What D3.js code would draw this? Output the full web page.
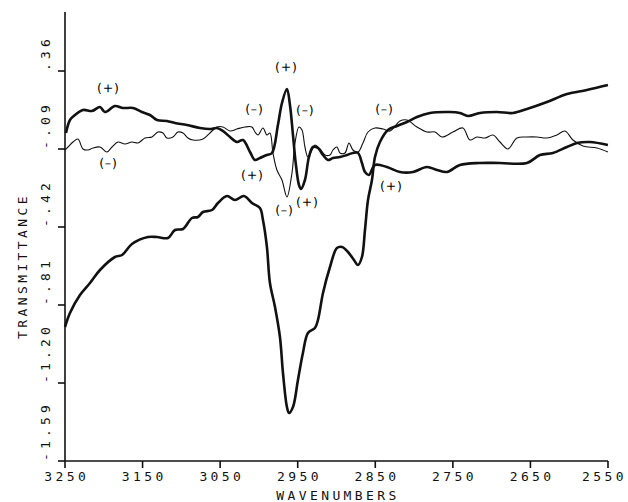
<!DOCTYPE html>
<html><head><meta charset="utf-8">
<script src="https://cdn.jsdelivr.net/npm/d3@7"></script>
<style>
html,body{margin:0;padding:0;background:#fff;}
svg{display:block;}
.ax{font-family:"DejaVu Sans Mono",monospace;font-size:13px;letter-spacing:3.4px;fill:#111;}
.ay{font-family:"DejaVu Sans Mono",monospace;font-size:13px;letter-spacing:4.2px;fill:#111;}
.sg{font-family:"DejaVu Sans",sans-serif;font-size:12.5px;letter-spacing:0.8px;fill:#000;}
</style></head><body>
<svg id="c" width="628" height="502"></svg>
<script>
// Wavenumber ticks and transmittance ticks
const xTicks = [3250, 3150, 3050, 2950, 2850, 2750, 2650, 2550];
const yTickValues = [0.36, -0.03, -0.42, -0.81, -1.20, -1.59];
const yTickLabels = [".36", "-.09", "-.42", "-.81", "-1.20", "-1.59"];

// Series: [wavenumber, transmittance]
const absorbance = [
[3250,-0.92],[3243.6,-0.85],[3230.7,-0.76],[3217.8,-0.70],[3204.9,-0.635],[3185.6,-0.57],[3176.5,-0.56],
[3163.7,-0.505],[3143,-0.47],[3131.4,-0.47],[3117.3,-0.475],[3108.2,-0.435],[3097.9,-0.43],[3086.3,-0.375],
[3078.6,-0.37],[3072.1,-0.345],[3060.5,-0.335],[3052.8,-0.30],[3041.2,-0.265],[3030.9,-0.285],[3019.3,-0.265],
[3009,-0.30],[2998.7,-0.325],[2994.8,-0.385],[2989.7,-0.52],[2985.8,-0.70],[2979.3,-0.82],[2972.9,-0.97],
[2969,-1.15],[2963.9,-1.32],[2961.3,-1.35],[2956.1,-1.32],[2949.7,-1.185],[2943.3,-1.05],[2936.8,-0.95],
[2927.8,-0.925],[2923.9,-0.885],[2917.4,-0.75],[2908.4,-0.62],[2899.4,-0.525],[2892.9,-0.52],[2885.2,-0.545],
[2877.5,-0.585],[2872.3,-0.61],[2867.2,-0.57],[2863.3,-0.435],[2859.4,-0.285],[2854.3,-0.185],[2850.4,-0.07],
[2844,0.005],[2833.7,0.065],[2822,0.085],[2809.2,0.105],[2796.3,0.13],[2779.5,0.15],[2753.8,0.155],
[2740.9,0.15],[2730.5,0.135],[2715.1,0.15],[2693.2,0.155],[2672.5,0.15],[2654.5,0.17],[2628.7,0.205],
[2602.9,0.245],[2577.2,0.265],[2550.1,0.29]
];
const diffPlus = [
[3248.7,0.05],[3243.6,0.115],[3237.1,0.14],[3226.8,0.165],[3215.2,0.16],[3204.9,0.18],[3198.5,0.155],
[3185.6,0.185],[3175.3,0.175],[3162.4,0.175],[3150.8,0.155],[3140.5,0.14],[3131.4,0.115],[3118.6,0.11],
[3108.2,0.10],[3092.8,0.09],[3076,0.075],[3063.1,0.07],[3054.1,0.075],[3046.4,0.06],[3037.3,0.03],
[3028.3,0.005],[3020.6,0.015],[3011.5,-0.045],[3005.1,-0.085],[2998.7,-0.075],[2989.7,-0.06],[2983.2,-0.05],
[2975.5,0.09],[2970.3,0.20],[2963.9,0.27],[2960,0.19],[2956.1,0.04],[2952.3,-0.11],[2948.4,-0.21],
[2945.8,-0.23],[2940.7,-0.185],[2935.5,-0.07],[2930.3,-0.02],[2923.9,-0.025],[2917.4,-0.06],[2911,-0.085],
[2904.6,-0.075],[2895.5,-0.07],[2886.5,-0.06],[2878.8,-0.05],[2872.3,-0.05],[2867.2,-0.10],[2863.3,-0.145],
[2858.2,-0.16],[2850.4,-0.11],[2835,-0.12],[2818.2,-0.145],[2801.4,-0.145],[2783.4,-0.12],[2770.5,-0.135],
[2757.6,-0.145],[2740.9,-0.11],[2715.1,-0.10],[2689.3,-0.10],[2654.5,-0.10],[2637.7,-0.06],[2621,-0.05],
[2602.9,-0.02],[2590,0.0],[2573.3,0.005],[2550.1,-0.01]
];
const diffMinus = [
[3250,-0.035],[3246.1,-0.02],[3239.7,0.005],[3233.3,0.02],[3226.8,-0.03],[3220.4,-0.035],[3213.9,-0.025],
[3204.9,-0.02],[3195.9,-0.045],[3189.4,-0.02],[3181.7,0.005],[3172.7,-0.005],[3163.7,0.005],[3156,0.0],
[3146.9,0.025],[3137.9,0.03],[3130.1,0.055],[3123.7,0.05],[3118.6,0.025],[3110.8,0.03],[3104.4,0.055],
[3097.9,0.05],[3091.5,0.025],[3085,0.015],[3072.1,0.02],[3063.1,0.05],[3054.1,0.08],[3046.4,0.08],
[3037.3,0.06],[3028.3,0.07],[3018,0.08],[3009,0.08],[3005.1,0.055],[3001.2,0.04],[2994.8,0.075],
[2989.7,0.04],[2985.8,0.05],[2981.9,-0.05],[2976.8,-0.135],[2970.3,-0.185],[2963.9,-0.27],[2957.4,-0.15],
[2953.5,0.0],[2948.4,0.08],[2944.5,0.065],[2940.7,-0.02],[2936.8,-0.07],[2931.6,-0.035],[2927.8,-0.01],
[2921.3,-0.03],[2914.9,-0.06],[2908.4,-0.06],[2904.6,-0.035],[2899.4,-0.02],[2895.5,-0.05],[2889.1,-0.05],
[2883.9,0.0],[2878.8,-0.035],[2872.3,-0.045],[2865.9,0.0],[2859.4,0.055],[2850.4,0.075],[2840.1,0.07],
[2831.1,0.06],[2818.2,0.11],[2809.2,0.115],[2796.3,0.08],[2783.4,0.055],[2773.1,0.055],[2764,0.03],
[2749.9,0.055],[2737,0.075],[2728,0.015],[2719,0.03],[2708.6,0.025],[2698.3,0.04],[2689.3,0.005],
[2679,-0.03],[2667.4,0.025],[2654.5,0.03],[2641.6,0.03],[2628.7,0.025],[2615.9,0.04],[2605.5,0.06],
[2595.2,0.015],[2582.3,-0.015],[2564.3,-0.025],[2550.1,-0.045]
];
// Sign annotations: [text, wavenumber, transmittance]
const signs = [
["(+)",3194.6,0.275],["(\u2013)",3194.6,-0.10],["(\u2013)",3006.4,0.17],["(+)",2965.1,0.38],
["(\u2013)",2940.7,0.165],["(+)",3009,-0.16],["(\u2013)",2967.7,-0.335],["(+)",2938.1,-0.295],
["(\u2013)",2838.8,0.17],["(+)",2829.8,-0.215]
];
const yTop = 0.655;

const W = 628;
const svg = d3.select("#c");
const x = d3.scaleLinear().domain([3250, 2550]).range([65, 608]);
const y = d3.scaleLinear().domain([-1.59, 0.36]).range([461, 71]);

// axes lines
const axG = svg.append("g").attr("stroke","#111").attr("stroke-width",1.6).attr("fill","none");
axG.append("line").attr("x1",x(3250)).attr("x2",x(3250)).attr("y1",y(yTop)).attr("y2",y(-1.59));
axG.append("line").attr("x1",x(3250)).attr("x2",x(2550)).attr("y1",y(-1.59)).attr("y2",y(-1.59));
yTickValues.forEach(v=>{
  axG.append("line").attr("x1",x(3250)-7).attr("x2",x(3250)).attr("y1",y(v)).attr("y2",y(v));
});
xTicks.forEach(v=>{
  axG.append("line").attr("x1",x(v)).attr("x2",x(v)).attr("y1",y(-1.59)).attr("y2",y(-1.59)+7);
});
// x tick labels
const txtG = svg.append("g");
xTicks.forEach(v=>{
  const t = txtG.append("text").attr("class","ax").attr("y",481).attr("text-anchor","start").text(String(v));
  const w = t.node().getComputedTextLength();
  let cx = x(v) - (w - 3.4)/2;
  if (cx + w > W - 1) cx = W - 1 - w;
  t.attr("x", cx);
});
txtG.append("text").attr("class","ax").attr("x",338).attr("y",500).attr("text-anchor","middle").text("WAVENUMBERS");
// y tick labels (rotated)
yTickValues.forEach((v,i)=>{
  txtG.append("text").attr("class","ay")
     .attr("transform",`translate(50,${y(v)}) rotate(-90)`)
     .attr("text-anchor","start").text(yTickLabels[i]);
});
txtG.append("text").attr("class","ax")
   .attr("transform",`translate(27,266) rotate(-90)`)
   .attr("text-anchor","middle").text("TRANSMITTANCE");

const line = d3.line().x(d=>x(d[0])).y(d=>y(d[1])).curve(d3.curveCatmullRom.alpha(0.5));
svg.append("path").datum(diffMinus).attr("d",line).attr("fill","none").attr("stroke","#111").attr("stroke-width",1.1);
svg.append("path").datum(diffPlus).attr("d",line).attr("fill","none").attr("stroke","#111").attr("stroke-width",2.6).attr("stroke-linejoin","round");
svg.append("path").datum(absorbance).attr("d",line).attr("fill","none").attr("stroke","#111").attr("stroke-width",2.6).attr("stroke-linejoin","round");

const sgG = svg.append("g");
signs.forEach(s=>{
  sgG.append("text").attr("class","sg")
     .attr("transform",`translate(${x(s[1])+0.4},${y(s[2])}) rotate(0.05)`)
     .attr("dy","0.35em")
     .attr("text-anchor","middle").text(s[0]);
});
</script>
</body></html>
